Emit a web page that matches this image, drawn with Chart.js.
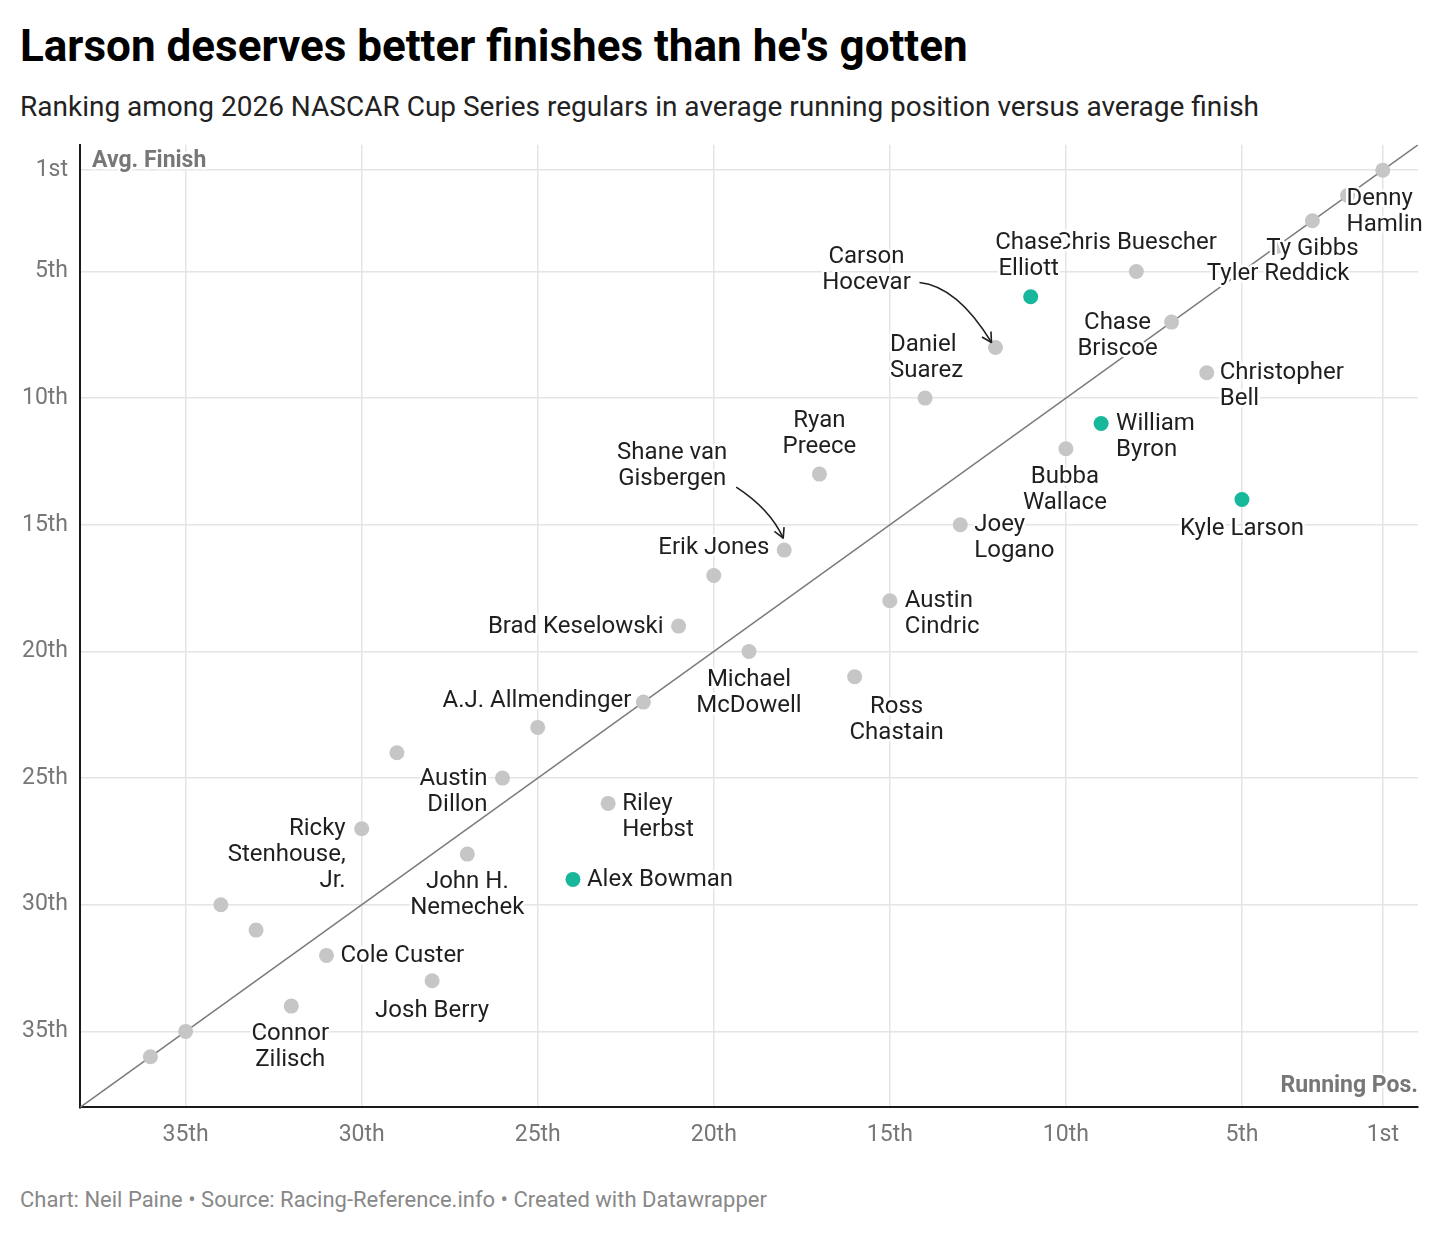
<!DOCTYPE html>
<html>
<head>
<meta charset="utf-8">
<script src="https://cdn.jsdelivr.net/npm/chart.js@4.4.1/dist/chart.umd.min.js"></script>
<style>
  html, body { margin: 0; padding: 0; background: #fff; }
  body { width: 1440px; height: 1234px; position: relative; overflow: hidden; font-family: Roboto, "Noto Sans", sans-serif; }
  .title { position: absolute; left: 20px; top: 24px; font-size: 44px; line-height: 1; font-weight: 700; color: #000; white-space: nowrap; }
  .subtitle { position: absolute; left: 20px; top: 93px; font-size: 28px; line-height: 1; color: #222; white-space: nowrap; }
  .footer { position: absolute; left: 20px; top: 1189px; font-size: 22px; line-height: 1; color: #888; white-space: nowrap; }
  .chart-wrap { position: absolute; left: 0; top: 118.6px; width: 1440px; height: 1041.4px; }
</style>
</head>
<body>
<div class="title">Larson deserves better finishes than he's gotten</div>
<div class="subtitle">Ranking among 2026 NASCAR Cup Series regulars in average running position versus average finish</div>
<div class="chart-wrap"><canvas id="scatter"></canvas></div>
<div class="footer">Chart: Neil Paine • Source: Racing-Reference.info • Created with Datawrapper</div>

<script>
/* ── DATA ─────────────────────────────────────────────────── */
const drivers = [
  '', 'Denny Hamlin', 'Ty Gibbs', 'Tyler Reddick', 'Chris Buescher', 'Chase Elliott',
  'Chase Briscoe', 'Carson Hocevar', 'Christopher Bell', 'Daniel Suarez', 'William Byron',
  'Bubba Wallace', 'Ryan Preece', 'Kyle Larson', 'Joey Logano', 'Shane van Gisbergen',
  'Erik Jones', 'Austin Cindric', 'Brad Keselowski', 'Michael McDowell', 'Ross Chastain',
  'A.J. Allmendinger', '', '', 'Austin Dillon', 'Riley Herbst', 'Ricky Stenhouse, Jr.',
  'John H. Nemechek', 'Alex Bowman', '', '', 'Cole Custer', 'Josh Berry', 'Connor Zilisch',
  '', ''
];
const runningPos = [
  1, 2, 3, 4, 8, 11,
  7, 12, 6, 14, 9,
  10, 17, 5, 13, 18,
  20, 15, 21, 19, 16,
  22, 25, 29, 26, 23, 30,
  27, 24, 34, 33, 31, 28, 32,
  35, 36
];
const avgFinish = [
  1, 2, 3, 4, 5, 6,
  7, 8, 9, 10, 11,
  12, 13, 14, 15, 16,
  17, 18, 19, 20, 21,
  22, 23, 24, 25, 26, 27,
  28, 29, 30, 31, 32, 33, 34,
  35, 36
];
const highlighted = ['Chase Elliott', 'William Byron', 'Kyle Larson', 'Alex Bowman'];
const xTicks = [35, 30, 25, 20, 15, 10, 5, 1];
const yTicks = [1, 5, 10, 15, 20, 25, 30, 35];
const rankRange = [0, 38];

/* ── LABEL PLACEMENT (presentation only) ──────────────────── */
const labelLayout = {
  'Denny Hamlin':        { text: 'Denny\nHamlin', align: 'left', dx: -1, dy: 4 },
  'Ty Gibbs':            { text: 'Ty Gibbs', align: 'center', dx: 0, dy: 28 },
  'Tyler Reddick':       { text: 'Tyler Reddick', align: 'center', dx: 1, dy: 28 },
  'Chris Buescher':      { text: 'Chris Buescher', align: 'center', dx: 0, dy: -28 },
  'Chase Elliott':       { text: 'Chase\nElliott', align: 'center', dx: -2, dy: -54 },
  'Chase Briscoe':       { text: 'Chase\nBriscoe', align: 'center', dx: -54, dy: 1 },
  'Carson Hocevar':      { text: 'Carson\nHocevar', align: 'center', dx: -129, dy: -90,
                           arrow: { from: [-76, -65], ctrl: [-38, -61], to: [-4, -5] } },
  'Christopher Bell':    { text: 'Christopher\nBell', align: 'left', dx: 13, dy: 0 },
  'Daniel Suarez':       { text: 'Daniel\nSuarez', align: 'left', dx: -35, dy: -53 },
  'William Byron':       { text: 'William\nByron', align: 'left', dx: 15, dy: 1 },
  'Bubba Wallace':       { text: 'Bubba\nWallace', align: 'center', dx: -1, dy: 28 },
  'Ryan Preece':         { text: 'Ryan\nPreece', align: 'center', dx: 0, dy: -53 },
  'Kyle Larson':         { text: 'Kyle Larson', align: 'center', dx: 0, dy: 30 },
  'Joey Logano':         { text: 'Joey\nLogano', align: 'left', dx: 14, dy: 0 },
  'Shane van Gisbergen': { text: 'Shane van\nGisbergen', align: 'center', dx: -112, dy: -97,
                           arrow: { from: [-48, -63], ctrl: [-14, -41], to: [-1, -12] } },
  'Erik Jones':          { text: 'Erik Jones', align: 'center', dx: 0, dy: -27 },
  'Austin Cindric':      { text: 'Austin\nCindric', align: 'left', dx: 15, dy: 0 },
  'Brad Keselowski':     { text: 'Brad Keselowski', align: 'right', dx: -15, dy: 1 },
  'Michael McDowell':    { text: 'Michael\nMcDowell', align: 'center', dx: 0, dy: 29 },
  'Ross Chastain':       { text: 'Ross\nChastain', align: 'center', dx: 42, dy: 30 },
  'A.J. Allmendinger':   { text: 'A.J. Allmendinger', align: 'right', dx: -12, dy: -1 },
  'Austin Dillon':       { text: 'Austin\nDillon', align: 'right', dx: -15, dy: 1 },
  'Riley Herbst':        { text: 'Riley\nHerbst', align: 'left', dx: 14, dy: 1 },
  'Ricky Stenhouse, Jr.':{ text: 'Ricky\nStenhouse,\nJr.', align: 'right', dx: -16, dy: 0 },
  'John H. Nemechek':    { text: 'John H.\nNemechek', align: 'center', dx: 0, dy: 28 },
  'Alex Bowman':         { text: 'Alex Bowman', align: 'left', dx: 14, dy: 1 },
  'Cole Custer':         { text: 'Cole Custer', align: 'left', dx: 14, dy: 1 },
  'Josh Berry':          { text: 'Josh Berry', align: 'center', dx: 0, dy: 30 },
  'Connor Zilisch':      { text: 'Connor\nZilisch', align: 'center', dx: -1, dy: 28 }
};

const GRAY = '#c6c6c6';
const TEAL = '#17b79b';
const FONT = 'Roboto, "Noto Sans", sans-serif';

function ordinal(n) {
  const s = ['th', 'st', 'nd', 'rd'];
  const v = n % 100;
  return n + (s[(v - 20) % 10] || s[v] || s[0]);
}

function haloText(ctx, str, x, y) {
  ctx.lineWidth = 5;
  ctx.lineJoin = 'round';
  ctx.strokeStyle = '#fff';
  ctx.strokeText(str, x, y);
  ctx.fillText(str, x, y);
}

/* ── LABEL + ANNOTATION PLUGIN ───────────────────────────── */
const driverLabels = {
  id: 'driverLabels',
  afterDatasetsDraw(chart) {
    const { ctx, scales: { x, y }, chartArea } = chart;
    ctx.save();
    ctx.font = `24px ${FONT}`;
    ctx.fillStyle = '#1f1f1f';
    ctx.textBaseline = 'middle';

    drivers.forEach((name, i) => {
      const lay = labelLayout[name];
      if (!lay) return;
      const px = x.getPixelForValue(runningPos[i]);
      const py = y.getPixelForValue(avgFinish[i]);
      ctx.textAlign = lay.align;
      lay.text.split('\n').forEach((line, k) => {
        haloText(ctx, line, px + lay.dx, py + lay.dy + k * 26);
      });
    });

    // curved pointer arrows
    ctx.strokeStyle = '#1f1f1f';
    ctx.lineWidth = 1.6;
    drivers.forEach((name, i) => {
      const lay = labelLayout[name];
      if (!lay || !lay.arrow) return;
      const px = x.getPixelForValue(runningPos[i]);
      const py = y.getPixelForValue(avgFinish[i]);
      const a = lay.arrow;
      const sx = px + a.from[0], sy = py + a.from[1];
      const cx = px + a.ctrl[0], cy = py + a.ctrl[1];
      const ex = px + a.to[0], ey = py + a.to[1];
      ctx.beginPath();
      ctx.moveTo(sx, sy);
      ctx.quadraticCurveTo(cx, cy, ex, ey);
      ctx.stroke();
      const ang = Math.atan2(ey - cy, ex - cx);
      const len = 11;
      ctx.beginPath();
      ctx.moveTo(ex - len * Math.cos(ang - 0.5), ey - len * Math.sin(ang - 0.5));
      ctx.lineTo(ex, ey);
      ctx.lineTo(ex - len * Math.cos(ang + 0.5), ey - len * Math.sin(ang + 0.5));
      ctx.stroke();
    });

    // axis titles inside the plot
    ctx.font = `bold 23px ${FONT}`;
    ctx.fillStyle = '#777';
    ctx.textAlign = 'left';
    ctx.textBaseline = 'alphabetic';
    haloText(ctx, 'Avg. Finish', chartArea.left + 12, chartArea.top + 22);
    ctx.textAlign = 'right';
    haloText(ctx, 'Running Pos.', chartArea.right, chartArea.bottom - 15);
    ctx.restore();
  }
};

/* ── CHART ───────────────────────────────────────────────── */
const points = drivers.map((name, i) => ({ x: runningPos[i], y: avgFinish[i] }));
const pointColors = drivers.map(name => highlighted.includes(name) ? TEAL : GRAY);

new Chart(document.getElementById('scatter'), {
  type: 'scatter',
  data: {
    datasets: [
      {
        label: 'Drivers',
        data: points,
        backgroundColor: pointColors,
        borderWidth: 0,
        pointRadius: 7.5,
        pointHoverRadius: 7.5,
        order: 0
      },
      {
        type: 'line',
        label: 'Parity',
        data: rankRange.map(v => ({ x: v, y: v })),
        borderColor: '#7a7a7a',
        borderWidth: 1.6,
        pointRadius: 0,
        fill: false,
        order: 1
      }
    ]
  },
  options: {
    responsive: true,
    maintainAspectRatio: false,
    animation: false,
    layout: { padding: { top: 13.6, right: 22, left: 0, bottom: 0 } },
    plugins: {
      legend: { display: false },
      tooltip: { enabled: false }
    },
    scales: {
      x: {
        type: 'linear',
        min: rankRange[0], max: rankRange[1],
        reverse: true,
        afterBuildTicks: s => { s.ticks = xTicks.map(v => ({ value: v })); },
        afterFit: s => { s.height = 53; },
        grid: { color: '#e4e4e4', lineWidth: 1.5, drawTicks: false },
        border: { display: true, color: '#1a1a1a', width: 2 },
        ticks: {
          color: '#777',
          font: { family: FONT, size: 23 },
          padding: 14,
          maxRotation: 0,
          callback: v => ordinal(v)
        }
      },
      y: {
        type: 'linear',
        min: rankRange[0], max: rankRange[1],
        reverse: true,
        afterBuildTicks: s => { s.ticks = yTicks.map(v => ({ value: v })); },
        afterFit: s => { s.width = 80; },
        grid: { color: '#e4e4e4', lineWidth: 1.5, drawTicks: false },
        border: { display: true, color: '#1a1a1a', width: 2 },
        ticks: {
          color: '#777',
          font: { family: FONT, size: 23 },
          padding: 12,
          callback: v => ordinal(v)
        }
      }
    }
  },
  plugins: [driverLabels]
});
</script>
</body>
</html>
